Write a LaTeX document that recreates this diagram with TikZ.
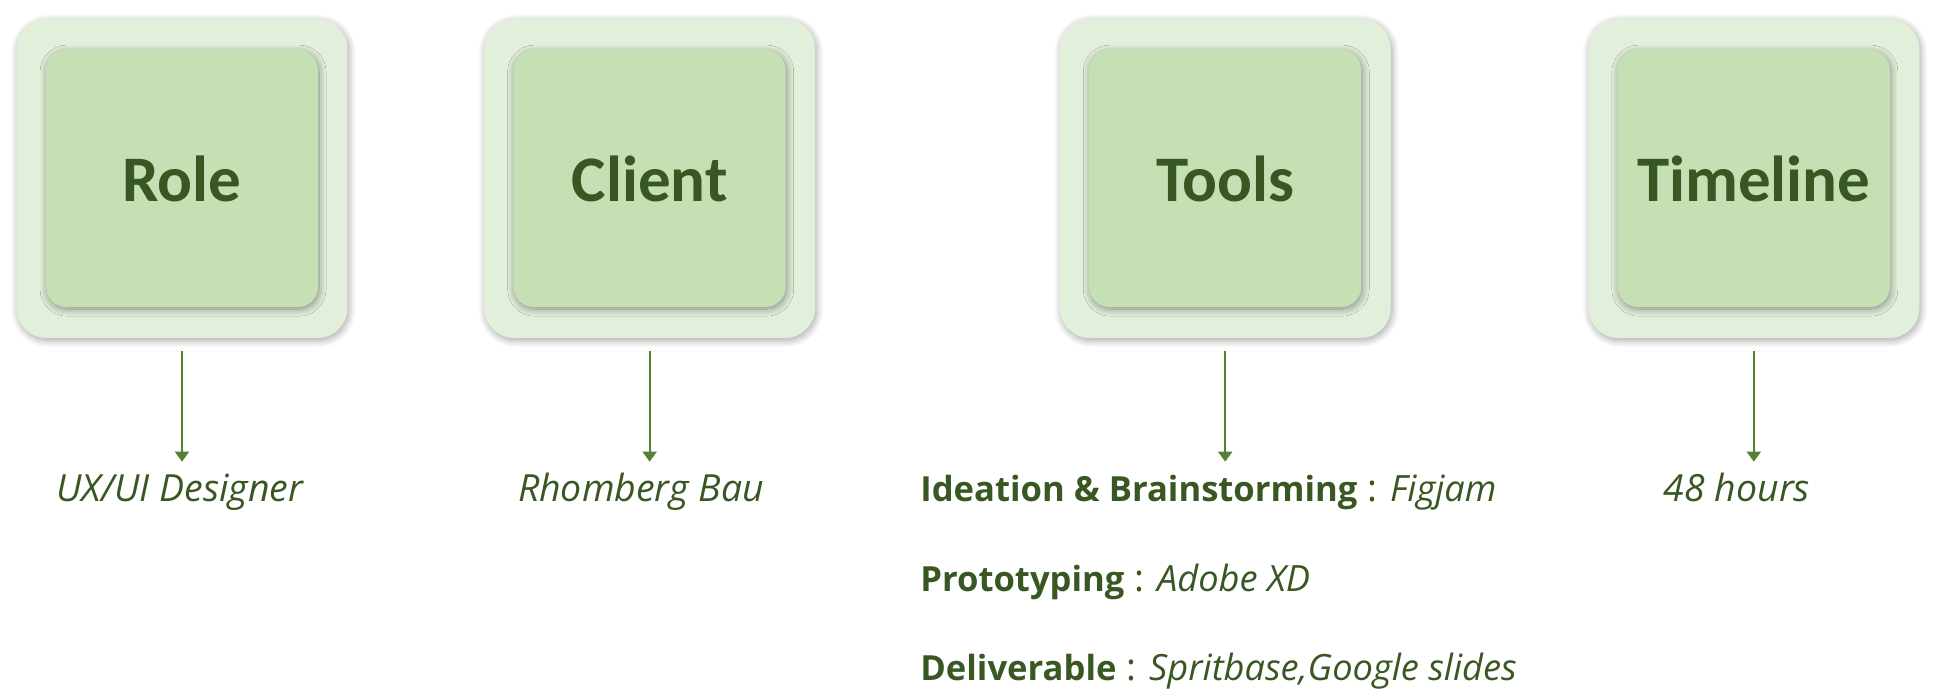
\documentclass[tikz,border=0pt]{standalone}
\usepackage{fontspec}
\setmainfont{Open Sans}
\newfontfamily\headfont{Carlito}
\usetikzlibrary{positioning, arrows.meta, shadows.blur}

\definecolor{paleGreen}{HTML}{E2EFDA}
\definecolor{softGreen}{HTML}{C5E0B4}
\definecolor{darkGreen}{HTML}{385723}
\definecolor{lineGreen}{HTML}{548235}

\newcommand\lblsize{\fontsize{21.3}{24}\selectfont}
\newcommand\keyword[1]{{\fontsize{19.7}{24}\selectfont\bfseries #1}}
\newcommand\toolname[1]{{\fontsize{20.6}{24}\selectfont\itshape #1}}

\begin{document}
\begin{tikzpicture}[x=0.02cm, y=-0.02cm,
	outerbox/.style={rectangle, rounded corners=0.6cm, fill=paleGreen,
		minimum width=6.62cm, minimum height=6.38cm,
		blur shadow={shadow blur steps=12, shadow xshift=0.8pt, shadow yshift=-1.4pt,
			shadow blur radius=4pt, shadow opacity=35}},
	innerbox/.style={rectangle, rounded corners=0.4cm, fill=softGreen,
		minimum width=5.44cm, minimum height=5.14cm, text=darkGreen,
		font=\headfont\bfseries\fontsize{37}{40}\selectfont,
		blur shadow={shadow blur steps=10, shadow xshift=0.6pt, shadow yshift=-1.2pt,
			shadow blur radius=4pt, shadow opacity=40}},
	lbl/.style={text=darkGreen, inner sep=0pt, text height=0.54cm, font=\lblsize},
	arr/.style={draw=lineGreen, line width=1.1pt, -{Triangle[length=0.2cm, width=0.28cm]},
		shorten <=0.26cm, shorten >=0.24cm}]
	\useasboundingbox (0,0) rectangle (1938,698);

	\node[outerbox] (role) at (182,178.5) {};
	\node[outerbox, right=2.72cm of role] (client) {};
	\node[outerbox, right=4.88cm of client] (tools) {};
	\node[outerbox, right=3.94cm of tools] (timeline) {};

	\node[innerbox] (roleIn) at (role) {Role};
	\node[innerbox] (clientIn) at (client) {Client};
	\node[innerbox] (toolsIn) at (tools) {Tools};
	\node[innerbox] (timelineIn) at (timeline) {Timeline};

	\node[lbl, anchor=base, font=\lblsize\itshape] (ux) at (180,501) {UX/UI Designer};
	\node[lbl, anchor=base, font=\lblsize\itshape] (rhomberg) at (641,501) {Rhomberg Bau};
	\node[lbl, anchor=base, font=\lblsize\itshape] (hours) at (1737,501) {48 hours};

	\node[lbl, anchor=base west] (ideation) at (920,501)
		{\keyword{Ideation \& Brainstorming} : \toolname{Figjam}};
	\node[lbl, anchor=base west] (proto) at (920,591)
		{\keyword{Prototyping} : \toolname{Adobe XD}};
	\node[lbl, anchor=base west] (deliv) at (920,680)
		{\keyword{Deliverable} : \toolname{Spritbase,Google slides}};

	\draw[arr] (role.south) -- (role.south |- ux.north);
	\draw[arr] (client.south) -- (client.south |- rhomberg.north);
	\draw[arr] (tools.south) -- (tools.south |- ideation.north);
	\draw[arr] (timeline.south) -- (timeline.south |- hours.north);
\end{tikzpicture}
\end{document}
